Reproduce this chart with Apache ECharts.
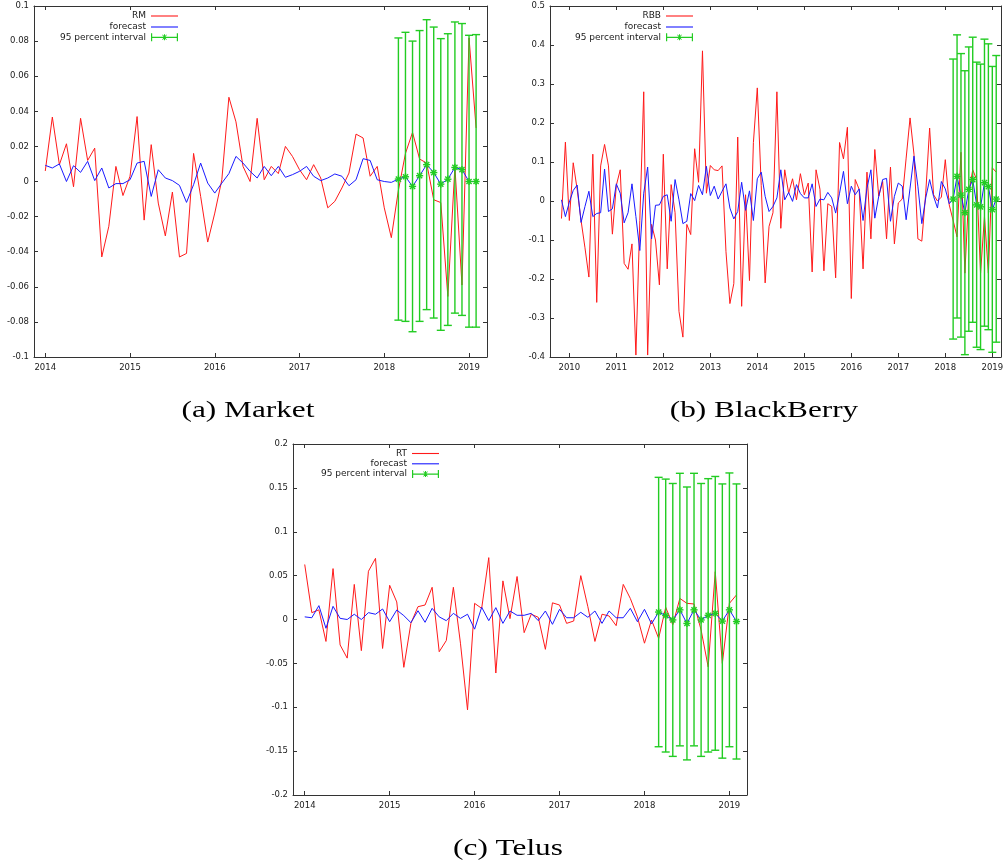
<!DOCTYPE html>
<html>
<head>
<meta charset="utf-8">
<script src="https://cdn.jsdelivr.net/npm/echarts@6/dist/echarts.min.js"></script>
<style>
html,body{margin:0;padding:0;background:#fff;}
#c{width:1003px;height:866px;}
</style>
</head>
<body>
<div id="c"></div>
<script>
// ---------- tick labels ----------
const yearTicksA = [2014, 2015, 2016, 2017, 2018, 2019];
const yearTicksB = [2010, 2011, 2012, 2013, 2014, 2015, 2016, 2017, 2018, 2019];
const yearTicksC = [2014, 2015, 2016, 2017, 2018, 2019];

// ---------- (a) Market : Jan 2014 .. Feb 2019 ----------
const startA = '2014-01';
const valuesRM = [
  0.006, 0.0367, 0.0096, 0.0215, -0.003, 0.036, 0.012, 0.019, -0.043, -0.0255, 0.0086, -0.008,
  0.003, 0.037, -0.022, 0.021, -0.0123, -0.031, -0.006, -0.043, -0.041, 0.016, -0.0085, -0.0345,
  -0.018, 0.001, 0.048, 0.034, 0.0086, 0.0, 0.036, 0.001, 0.0086, 0.0045, 0.020, 0.0143,
  0.0067, 0.001, 0.0096, 0.002, -0.015, -0.0113, -0.0037, 0.0048, 0.027, 0.0248, 0.003, 0.0086,
  -0.015, -0.032, -0.005, 0.016, 0.028, 0.0128, 0.0105, -0.0104, -0.012, -0.0655, 0.0085, -0.059,
  0.0818, 0.0305
];
const forecastA = [
  0.0092, 0.0077, 0.010, 0.0, 0.009, 0.0052, 0.0115, 0.0005, 0.0077, -0.0037, -0.0012, -0.0012,
  0.001, 0.0105, 0.0115, -0.0085, 0.0067, 0.002, 0.0005, -0.0022, -0.0119, -0.0018, 0.0105, -0.0009,
  -0.0066, -0.0009, 0.0045, 0.0143, 0.0105, 0.0058, 0.002, 0.0086, 0.0033, 0.0086, 0.0024, 0.0039,
  0.0058, 0.0086, 0.003, 0.0005, 0.002, 0.0043, 0.003, -0.0024, 0.001, 0.013, 0.012, 0.001,
  0.0, -0.0005, 0.0014, 0.0027, -0.0028, 0.0033, 0.0096, 0.0051, -0.0015, 0.0013, 0.008, 0.0068,
  0.0, 0.0
];
const intervalStartA = '2018-03';
const upperA = [0.0818, 0.085, 0.080, 0.086, 0.0922, 0.088, 0.0814, 0.0842, 0.0909, 0.090, 0.0833, 0.0837];
const lowerA = [-0.079, -0.0797, -0.0856, -0.0797, -0.073, -0.0778, -0.0848, -0.082, -0.075, -0.0763, -0.083, -0.083];

// ---------- (b) BlackBerry : Nov 2009 .. Feb 2019 ----------
const startB = '2009-11';
const valuesRBB = [
  -0.045, 0.151, -0.05, 0.098, 0.03, -0.05, -0.12, -0.195, 0.12, -0.26, 0.09, 0.145,
  0.09, -0.085, 0.04, 0.08, -0.16, -0.175, -0.11, -0.395, -0.05, 0.28, -0.395, -0.06,
  -0.1, -0.215, 0.12, -0.174, 0.042, -0.03, -0.283, -0.349, -0.06, -0.086, 0.134, 0.048,
  0.385, 0.02, 0.091, 0.08, 0.078, 0.09, -0.13, -0.263, -0.212, 0.164, -0.27, 0.016,
  -0.204, 0.15, 0.29, 0.04, -0.21, -0.065, -0.03, 0.28, -0.07, 0.08, 0.02, 0.057,
  0.003, 0.07, 0.016, 0.046, -0.182, 0.08, 0.03, -0.179, -0.007, -0.014, -0.197, 0.15,
  0.108, 0.189, -0.25, 0.055, 0.03, -0.174, 0.074, -0.097, 0.132, 0.012, 0.05, -0.097,
  0.087, -0.11, -0.005, 0.005, 0.11, 0.213, 0.12, -0.097, -0.103, 0.02, 0.187, 0.016,
  0.0, 0.01, 0.106, -0.01, -0.05, -0.092, 0.125, -0.185, 0.02, 0.08, 0.055, -0.185,
  -0.04, -0.185, 0.085, 0.074
];
const forecastB = [
  0.003, -0.04, -0.003, 0.027, 0.041, -0.055, -0.014, 0.025, -0.04, -0.032, -0.03, 0.082,
  -0.027, -0.02, 0.044, 0.02, -0.056, -0.03, 0.044, -0.04, -0.127, 0.02, 0.087, -0.097,
  -0.011, -0.01, 0.012, 0.016, -0.052, 0.055, 0.003, -0.058, -0.052, 0.019, 0.001, 0.04,
  0.016, 0.089, 0.014, 0.038, 0.005, 0.025, 0.044, -0.018, -0.046, -0.027, 0.048, -0.024,
  0.026, -0.05, 0.057, 0.074, 0.012, -0.027, -0.014, 0.008, 0.08, 0.003, 0.022, -0.001,
  0.042, 0.019, 0.008, 0.008, 0.044, -0.014, 0.005, 0.003, 0.022, 0.008, -0.031, 0.02,
  0.076, -0.007, 0.038, 0.016, 0.031, -0.05, 0.033, 0.08, -0.044, 0.012, 0.055, 0.058,
  -0.052, 0.012, 0.046, 0.038, -0.048, 0.033, 0.115, 0.038, -0.058, 0.008, 0.055, 0.012,
  -0.018, 0.05, 0.031, -0.007, 0.005, 0.063, 0.015, -0.03, 0.03, 0.055, -0.01, -0.015,
  0.047, 0.037, -0.022, 0.005
];
const intervalStartB = '2018-03';
const upperB = [0.364, 0.426, 0.378, 0.334, 0.395, 0.42, 0.356, 0.351, 0.415, 0.403, 0.345, 0.373];
const lowerB = [-0.354, -0.3, -0.349, -0.394, -0.334, -0.311, -0.375, -0.381, -0.321, -0.33, -0.388, -0.362];

// ---------- (c) Telus : Jan 2014 .. Feb 2019 ----------
const startC = '2014-01';
const valuesRT = [
  0.0627, 0.0078, 0.011, -0.025, 0.058, -0.029, -0.044, 0.04, -0.0355, 0.055, 0.0697, -0.033,
  0.039, 0.02, -0.0545, -0.0044, 0.0146, 0.0165, 0.0367, -0.0367, -0.024, 0.0367, -0.027, -0.103,
  0.0184, 0.0127, 0.0705, -0.061, 0.044, 0.001, 0.049, -0.015, 0.006, 0.0025, -0.034, 0.019,
  0.0165, -0.0044, -0.0017, 0.05, 0.0146, -0.025, 0.006, 0.004, -0.007, 0.04, 0.024, 0.003,
  -0.027, -0.0006, -0.0215, 0.0139, -0.006, 0.024, 0.0184, 0.0177, -0.012, -0.054, 0.0545, -0.05,
  0.0184, 0.028
];
const forecastC = [
  0.003, 0.002, 0.0158, -0.01, 0.015, 0.0013, 0.0, 0.006, 0.0, 0.0078, 0.006, 0.012,
  -0.0025, 0.0108, 0.0044, -0.0036, 0.01, -0.0032, 0.0127, 0.003, -0.0013, 0.007, 0.0013, 0.006,
  -0.011, 0.0139, -0.0013, 0.0135, -0.0044, 0.0097, 0.0048, 0.0048, 0.007, -0.0013, 0.0097, -0.0055,
  0.0116, 0.002, 0.002, 0.0082, 0.0025, 0.0097, -0.0044, 0.0097, 0.002, 0.002, 0.0127, -0.0025,
  0.0116, -0.005, 0.0085, 0.0045, -0.0005, 0.011, -0.0045, 0.011, -0.0005, 0.0048, 0.007, -0.0018,
  0.011, -0.0023
];
const intervalStartC = '2018-03';
const upperC = [0.162, 0.16, 0.155, 0.1666, 0.151, 0.1666, 0.155, 0.1605, 0.163, 0.1545, 0.167, 0.1545];
const lowerC = [-0.145, -0.151, -0.156, -0.144, -0.16, -0.144, -0.156, -0.151, -0.149, -0.158, -0.145, -0.159];

// ---------- helpers ----------
const RED = '#ff1a1a', BLUE = '#1a1aff', GREEN = '#22cc22';
const AX = '#333333', TXT = '#1a1a1a';
const TICK_FONT = 'DejaVu Sans';

// month index (from 'YYYY-MM' plus offset) -> decimal year
function monthPos(start, i) {
  const [y, m] = start.split('-').map(Number);
  return y + (m - 1 + i) / 12;
}
function lineData(start, vals) {
  return vals.map((v, i) => [monthPos(start, i), v]);
}
function intervalData(seriesStart, forecast, ivStart, up, lo) {
  const [sy, sm] = seriesStart.split('-').map(Number);
  const [iy, im] = ivStart.split('-').map(Number);
  const off = (iy - sy) * 12 + (im - sm);
  return up.map((u, i) => [monthPos(ivStart, i), forecast[off + i], lo[i], u]);
}

function errRender(params, api) {
  const x = api.value(0), c = api.value(1), lo = api.value(2), hi = api.value(3);
  const pl = api.coord([x, lo]), ph = api.coord([x, hi]), pc = api.coord([x, c]);
  const st = { stroke: GREEN, lineWidth: 1.4 };
  const cap = 4, s = 3.6, d = 2.6;
  return {
    type: 'group',
    children: [
      { type: 'line', shape: { x1: pl[0], y1: pl[1], x2: ph[0], y2: ph[1] }, style: st },
      { type: 'line', shape: { x1: pl[0] - cap, y1: pl[1], x2: pl[0] + cap, y2: pl[1] }, style: st },
      { type: 'line', shape: { x1: ph[0] - cap, y1: ph[1], x2: ph[0] + cap, y2: ph[1] }, style: st },
      { type: 'line', shape: { x1: pc[0] - s, y1: pc[1], x2: pc[0] + s, y2: pc[1] }, style: st },
      { type: 'line', shape: { x1: pc[0], y1: pc[1] - s, x2: pc[0], y2: pc[1] + s }, style: st },
      { type: 'line', shape: { x1: pc[0] - d, y1: pc[1] - d, x2: pc[0] + d, y2: pc[1] + d }, style: st },
      { type: 'line', shape: { x1: pc[0] - d, y1: pc[1] + d, x2: pc[0] + d, y2: pc[1] - d }, style: st }
    ]
  };
}

const LINE_ICON = 'path://M0,0H27V1.1H0Z';
const ERR_ICON = 'path://M0,0H1.2V8H0Z M25.8,0H27V8H25.8Z M0,3.4H27V4.6H0Z M13,1H14V7H13Z M10.5,3.5H16.5V4.5H10.5Z M11,1.5L12,1.5L16,6.5L15,6.5Z M15,1.5L16,1.5L12,6.5L11,6.5Z';

const panels = [
  { grid: { left: 34, top: 6, width: 453, height: 351 }, xmin: 2013.867, xmax: 2019.212, ticks: yearTicksA,
    ymin: -0.1, ymax: 0.1, yint: 0.02, name: 'RM', start: startA, vals: valuesRM, fc: forecastA,
    ivStart: intervalStartA, up: upperA, lo: lowerA, legRight: 825, legTop: [11.5, 22.5, 32.8] },
  { grid: { left: 550, top: 6, width: 451, height: 351 }, xmin: 2009.589, xmax: 2019.185, ticks: yearTicksB,
    ymin: -0.4, ymax: 0.5, yint: 0.1, name: 'RBB', start: startB, vals: valuesRBB, fc: forecastB,
    ivStart: intervalStartB, up: upperB, lo: lowerB, legRight: 310, legTop: [11.5, 22.5, 32.8] },
  { grid: { left: 293, top: 444, width: 454, height: 351 }, xmin: 2013.862, xmax: 2019.207, ticks: yearTicksC,
    ymin: -0.2, ymax: 0.2, yint: 0.05, name: 'RT', start: startC, vals: valuesRT, fc: forecastC,
    ivStart: intervalStartC, up: upperC, lo: lowerC, legRight: 564, legTop: [449, 459.3, 469.6] }
];

const grids = [], xAxes = [], yAxes = [], series = [], legends = [];
panels.forEach((p, gi) => {
  grids.push(Object.assign({ outerBoundsMode: 'none', containLabel: false }, p.grid));
  const lineStyle = { color: AX, width: 1 };
  const baseX = {
    type: 'value', gridIndex: gi, min: p.xmin, max: p.xmax,
    axisLine: { show: true, onZero: false, lineStyle },
    axisTick: { show: true, inside: true, length: 4, customValues: p.ticks, lineStyle },
    splitLine: { show: false }, minorTick: { show: false }
  };
  xAxes.push(Object.assign({}, baseX, {
    position: 'bottom',
    axisLabel: { show: true, customValues: p.ticks, formatter: v => String(Math.round(v)),
      margin: 6, fontSize: 8.5, fontFamily: TICK_FONT, color: TXT }
  }));
  xAxes.push(Object.assign({}, baseX, { position: 'top', axisLabel: { show: false } }));
  const baseY = {
    type: 'value', gridIndex: gi, min: p.ymin, max: p.ymax, interval: p.yint,
    axisLine: { show: true, onZero: false, lineStyle },
    axisTick: { show: true, inside: true, length: 4, lineStyle },
    splitLine: { show: false }, minorTick: { show: false }
  };
  yAxes.push(Object.assign({}, baseY, {
    position: 'left',
    axisLabel: { show: true, margin: 5, fontSize: 8.5, fontFamily: TICK_FONT, color: TXT }
  }));
  yAxes.push(Object.assign({}, baseY, { position: 'right', axisLabel: { show: false } }));

  const xi = gi * 2, yi = gi * 2;
  series.push({
    name: p.name, type: 'line', xAxisIndex: xi, yAxisIndex: yi,
    data: lineData(p.start, p.vals), symbol: 'none', showSymbol: false,
    lineStyle: { color: RED, width: 1 }, itemStyle: { color: RED }, z: 2, animation: false
  });
  series.push({
    name: 'forecast', type: 'line', xAxisIndex: xi, yAxisIndex: yi,
    data: lineData(p.start, p.fc), symbol: 'none', showSymbol: false,
    lineStyle: { color: BLUE, width: 1 }, itemStyle: { color: BLUE }, z: 3, animation: false
  });
  series.push({
    name: '95 percent interval', type: 'custom', xAxisIndex: xi, yAxisIndex: yi,
    data: intervalData(p.start, p.fc, p.ivStart, p.up, p.lo),
    encode: { x: 0, y: [1, 2, 3] }, renderItem: errRender,
    itemStyle: { color: GREEN }, z: 4, animation: false
  });

  const names = [p.name, 'forecast', '95 percent interval'];
  names.forEach((n, k) => {
    legends.push({
      show: true, orient: 'horizontal', align: 'right', right: p.legRight, top: p.legTop[k],
      padding: 0, itemWidth: 27, itemHeight: 8, selectedMode: false,
      textStyle: { fontSize: 9, fontFamily: TICK_FONT, color: TXT },
      data: [{ name: n, icon: k === 2 ? ERR_ICON : LINE_ICON }]
    });
  });
});

const captions = [
  { text: '(a) Market', x: 248, y: 411 },
  { text: '(b) BlackBerry', x: 764, y: 411 },
  { text: '(c) Telus', x: 508, y: 849 }
];

const option = {
  backgroundColor: '#ffffff',
  animation: false,
  grid: grids,
  xAxis: xAxes,
  yAxis: yAxes,
  legend: legends,
  series: series,
  graphic: captions.map(c => ({
    type: 'text', x: c.x, y: c.y, scaleX: 1.36, silent: true,
    style: { text: c.text, fill: '#000', font: '23px "Liberation Serif"', textAlign: 'center', textVerticalAlign: 'middle' }
  }))
};

const chart = echarts.init(document.getElementById('c'), null, { renderer: 'canvas' });
chart.setOption(option);
</script>
</body>
</html>
